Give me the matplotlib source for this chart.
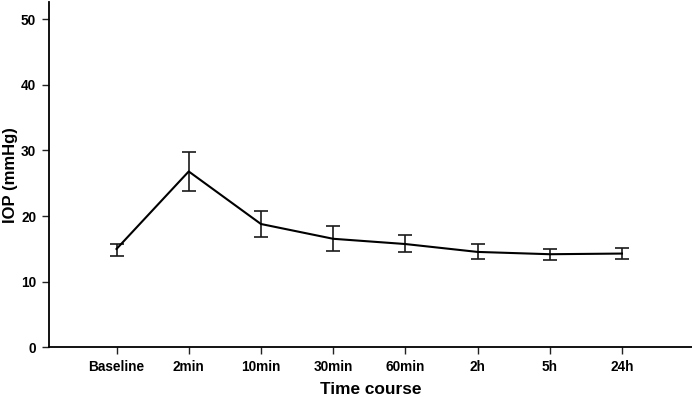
import matplotlib
matplotlib.use("Agg")
import matplotlib.pyplot as plt

categories = ["Baseline", "2min", "10min", "30min", "60min", "2h", "5h", "24h"]
iop_mean = [15.0, 26.8, 18.8, 16.55, 15.75, 14.55, 14.2, 14.3]
iop_upper = [15.8, 29.8, 20.85, 18.5, 17.05, 15.7, 15.0, 15.2]
iop_lower = [13.9, 23.85, 16.8, 14.7, 14.5, 13.4, 13.35, 13.4]
yticks = [0, 10, 20, 30, 40, 50]

plt.rcParams['font.family'] = ['Liberation Sans', 'DejaVu Sans']

fig = plt.figure(figsize=(6.92, 3.97), dpi=100)
ax = fig.add_axes([0.0703, 0.1247, 0.9297, 0.8703])

x = list(range(len(categories)))
err_low = [m - l for m, l in zip(iop_mean, iop_lower)]
err_high = [u - m for m, u in zip(iop_mean, iop_upper)]

ax.plot(x, iop_mean, color='black', lw=1.5, zorder=3)
ax.errorbar(x, iop_mean, yerr=[err_low, err_high], fmt='none',
            ecolor='#1a1a1a', elinewidth=1.2, capsize=4.8, capthick=1.2, zorder=2)

ax.set_xlim(-0.94, 7.97)
ax.set_ylim(0, 52.6)
ax.set_xticks(x)
ax.set_xticklabels(categories, fontsize=9.8, fontweight='bold')
ax.set_yticks(yticks)
ax.set_yticklabels([str(t) for t in yticks], fontsize=9.8, fontweight='bold')
ax.tick_params(axis='both', direction='out', length=5, width=1.0, color='#222222', pad=4)

for s in ['top', 'right']:
    ax.spines[s].set_visible(False)
for s in ['left', 'bottom']:
    ax.spines[s].set_linewidth(1.3)
    ax.spines[s].set_color('black')

ax.set_xlabel("Time course", fontsize=12.4, fontweight='bold', labelpad=5.5)
ax.set_ylabel("IOP (mmHg)", fontsize=12, fontweight='bold', labelpad=2)

fig.savefig("out.png", dpi=100)
